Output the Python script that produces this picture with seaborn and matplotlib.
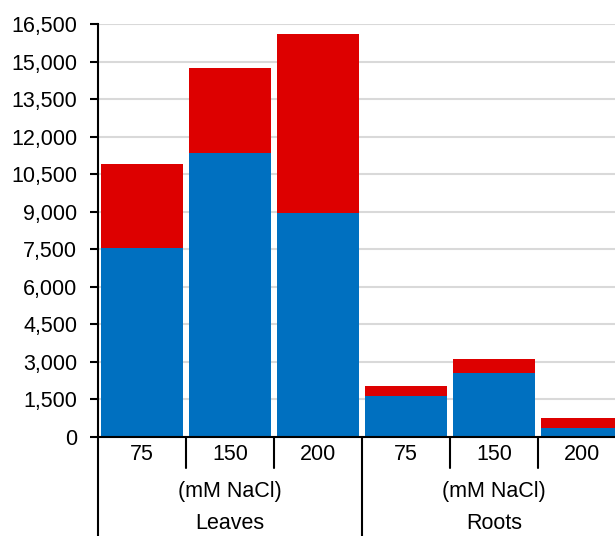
import pandas as pd
import seaborn as sns
import matplotlib.pyplot as plt
from matplotlib.lines import Line2D
from matplotlib.ticker import FuncFormatter

tissues = ["Leaves", "Roots"]
doses = ["75", "150", "200", "75", "150", "200"]
tissue_of_bar = ["Leaves", "Leaves", "Leaves", "Roots", "Roots", "Roots"]
blue_vals = [7570, 11330, 8930, 1640, 2560, 340]
totals = [10900, 14760, 16100, 2030, 3100, 740]
yticks = list(range(0, 16501, 1500))

keys = [t + " " + d for t, d in zip(tissue_of_bar, doses)]
df = pd.DataFrame({"key": keys, "blue": blue_vals, "total": totals})

sns.set_theme(style="white", rc={"text.color": "black", "xtick.color": "black",
                                 "ytick.color": "black"})
plt.rcParams["font.family"] = ["Liberation Sans", "DejaVu Sans"]

fig = plt.figure(figsize=(6.15, 5.36), dpi=100)
ax = fig.add_axes([98 / 615, 1 - 437 / 536, 528 / 615, 413 / 536])

sns.barplot(data=df, x="key", y="total", order=keys, color="#DD0000",
            saturation=1, width=0.93, linewidth=0, ax=ax)
sns.barplot(data=df, x="key", y="blue", order=keys, color="#0070C0",
            saturation=1, width=0.93, linewidth=0, ax=ax)

ax.set_xlim(-0.5, 5.5)
ax.set_ylim(0, 16500)
ax.set_yticks(yticks)
ax.yaxis.set_major_formatter(FuncFormatter(lambda v, p: f"{int(v):,}"))
ax.yaxis.grid(True, color="#d9d9d9", linewidth=1.5)
ax.set_axisbelow(True)
ax.set_xlabel("")
ax.set_ylabel("")
ax.set_xticks(range(6))
ax.set_xticklabels(doses)
ax.tick_params(axis="x", length=0, pad=5, labelsize=15.5)
ax.tick_params(axis="y", left=True, length=6, width=1.5, color="black",
               labelsize=15.5, pad=9)
for s in ["top", "right"]:
    ax.spines[s].set_visible(False)
ax.spines["left"].set_color("black")
ax.spines["left"].set_linewidth(1.5)
ax.spines["bottom"].set_color("black")
ax.spines["bottom"].set_linewidth(1.5)

tr = ax.get_xaxis_transform()
for xb in [0.5, 1.5, 3.5, 4.5]:
    ax.add_line(Line2D([xb, xb], [0, -0.075], transform=tr, color="black",
                       linewidth=1.5, clip_on=False))
for xb in [-0.5, 2.5, 5.5]:
    ax.add_line(Line2D([xb, xb], [0, -0.25], transform=tr, color="black",
                       linewidth=1.5, clip_on=False))

for i, t in enumerate(tissues):
    xc = 3 * i + 1
    ax.text(xc, -0.131, "(mM NaCl)", transform=tr, ha="center", va="center",
            fontsize=15.5)
    ax.text(xc, -0.21, t, transform=tr, ha="center", va="center",
            fontsize=15.5)

fig.savefig("out.png", dpi=100)
